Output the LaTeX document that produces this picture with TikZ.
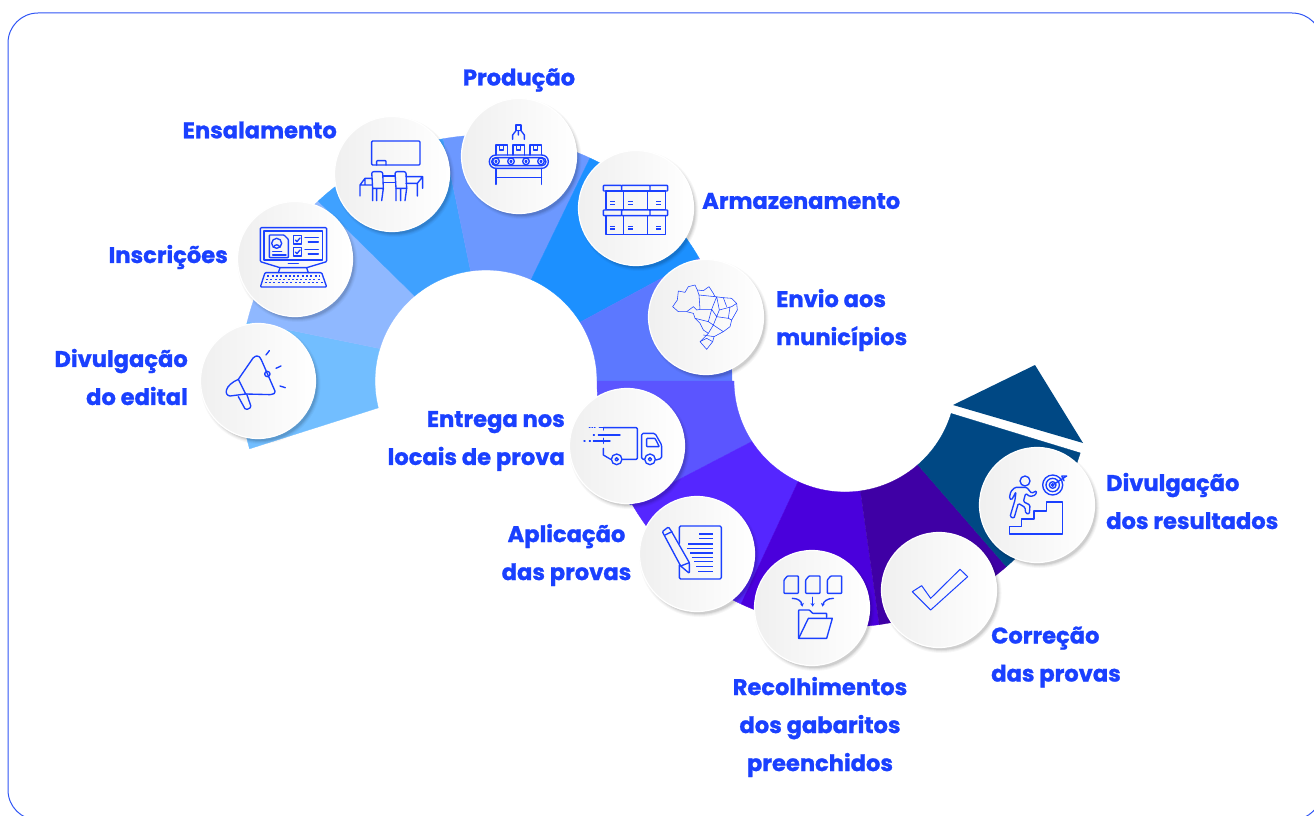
\documentclass[tikz,border=0pt]{standalone}
\usepackage{fontspec}
\setmainfont{Poppins}[BoldFeatures={FakeBold=1.1}]
\usetikzlibrary{calc,arrows.meta}
\definecolor{ink}{HTML}{1A40FF}
\definecolor{frame}{HTML}{2F55F5}
\definecolor{c1}{HTML}{72BEFF}
\definecolor{c2}{HTML}{8FB8FF}
\definecolor{c3}{HTML}{3FA1FF}
\definecolor{c4}{HTML}{6C98FF}
\definecolor{c5}{HTML}{1C90FF}
\definecolor{c6}{HTML}{5C78FF}
\definecolor{c7}{HTML}{5B55FF}
\definecolor{c8}{HTML}{5526FF}
\definecolor{c9}{HTML}{4A00DC}
\definecolor{c10}{HTML}{3F00A5}
\definecolor{c11}{HTML}{004884}
\tikzset{
  lab/.style={text=ink,font=\fontsize{22.6}{38}\selectfont\bfseries,inner sep=0pt},
  ico/.style={draw=ink,line width=1.35pt,line join=round,line cap=round},
  thinico/.style={draw=ink,line width=0.55pt,line join=round},
  disc/.style={circle,minimum size=115pt,inner sep=0pt,left color=black!6,right color=white,draw=white,line width=1.2pt},
  zoomed/.style={x=0.33333pt,y=-0.33333pt}
}
\newcommand{\seg}[8]{% cx cy a1in a2in a2out a1out rout colour
  \path[fill=#8,draw=#8,line width=0.3pt,shift={(#1,#2)}] (#3:111pt) arc[start angle=#3,end angle=#4,radius=111pt]
    -- (#5:#7pt) arc[start angle=#5,end angle=#6,radius=#7pt] -- cycle;}
\newcommand{\bub}[3]{% name x y
  \foreach \r/\o in {60/0.03,59/0.04,58/0.06,57/0.08}{\fill[black,opacity=\o] (#2+2.5,#3+3) circle[radius=\r pt];}
  \node[disc] (#1) at (#2,#3) {};}
\begin{document}
\begin{tikzpicture}[x=1pt,y=-1pt]
\useasboundingbox (0,0) rectangle (1314,816);
\draw[frame,line width=1pt,rounded corners=30pt] (8,13) rectangle (1322,820);
% ring, upper arc
\seg{486}{381}{194}{163}{166}{196}{246}{c1}
\seg{486}{381}{163}{130}{133}{166}{246}{c2}
\seg{486}{381}{130}{98}{100}{133}{246}{c3}
\seg{486}{381}{98}{66}{65}{100}{246}{c4}
\seg{486}{381}{66}{32}{30}{65}{246}{c5}
\seg{486}{381}{32}{0}{0}{30}{246}{c6}
% ring, lower arc
\seg{845}{381}{180}{213}{210}{180}{248}{c7}
\seg{845}{381}{213}{245}{245}{210}{246}{c8}
\seg{845}{381}{245}{278}{278}{245}{246}{c9}
\seg{845}{381}{278}{311}{311}{278}{246}{c10}
\seg{845}{381}{311}{343}{343}{311}{246}{c11}
% arrow head past the white gap
\fill[c11] (953,405) -- (1035,365) -- (1083,443) -- cycle;
% discs
\bub{d1}{258}{381}
\bub{d2}{295}{259}
\bub{d3}{392}{174}
\bub{d4}{519}{156}
\bub{d5}{636}{208}
\bub{d6}{706}{317}
\bub{d7}{627}{446}
\bub{d8}{697}{554}
\bub{d9}{812}{608}
\bub{d10}{939}{590}
\bub{d11}{1037}{505}
% labels
\node[lab,anchor=east,align=right] (t1) at (188,377) {Divulgação\\do edital};
\node[lab,anchor=east] (t2) at (228,257) {Inscrições};
\node[lab,anchor=east] (t3) at (337,130) {Ensalamento};
\node[lab] (t4) at (519,80) {Produção};
\node[lab,anchor=west] (t5) at (702,201) {Armazenamento};
\node[lab,anchor=west,align=left] (t6) at (776,320) {Envio aos\\municípios};
\node[lab,anchor=east,align=right] (t7) at (565,441) {Entrega nos\\locais de prova};
\node[lab,align=center] (t8) at (566.5,555) {Aplicação\\das provas};
\node[lab,align=center] (t9) at (820,727) {Recolhimentos\\dos gabaritos\\preenchidos};
\node[lab,anchor=west,align=left] (t10) at (991,657) {Correção\\das provas};
\node[lab,anchor=west,align=left] (t11) at (1106,501) {Divulgação\\dos resultados};
% icons traced in zoomed crops
\begin{scope}[shift={(180,90)},zoomed]
 % megaphone
 \draw[ico,rounded corners=1.5pt] (175,868) -- (222,800) -- (235,797) -- (242,805) -- (287,908) -- (275,914) -- (197,912);
 \draw[ico] (175,868) .. controls (135,885) and (130,915) .. (150,918) -- (197,912) -- (175,868);
 \draw[ico,rounded corners=1.5pt] (175,920) -- (197,960) -- (214,952) -- (200,912);
 \draw[ico] (262,852) circle[radius=8];
 \draw[ico] (258,795) -- (268,782) (288,835) -- (303,828) (300,888) -- (316,893);
 % computer
 \draw[ico,rounded corners=1pt] (241,413) -- (440,413) -- (440,515) -- (380,533) -- (300,533) -- (241,515) -- cycle;
 \draw[ico] (252,423) rectangle (428,510);
 \draw[ico,rounded corners=0.7pt] (268,435) -- (312,435) -- (325,448) -- (325,503) -- (268,503) -- cycle;
 \draw[ico] (290,460) circle[radius=15];
 \draw[ico] (280,472) .. controls (285,462) and (296,462) .. (300,472);
 \draw[ico] (278,485) -- (305,485) (278,495) -- (318,495);
 \draw[ico] (340,437) rectangle (365,462) (340,473) rectangle (365,498);
 \draw[ico] (346,450) -- (351,455) -- (360,444) (346,486) -- (351,491) -- (360,480);
 \draw[ico] (375,443) -- (415,443) (385,456) -- (415,456) (375,478) -- (415,478) (385,492) -- (415,492);
 \draw[ico] (325,521) -- (355,521);
 \draw[ico] (300,533) -- (295,548) (380,533) -- (385,548);
 \draw[ico,rounded corners=1pt] (255,548) -- (425,548) -- (440,591) -- (241,591) -- cycle;
 \draw[ico,dash pattern=on 2pt off 2.3pt,line cap=butt] (262,558) -- (420,558) (258,568) -- (424,568) (254,578) -- (428,578);
 % classroom
 \draw[ico,rounded corners=1pt] (575,153) rectangle (720,225);
 \draw[ico,rounded corners=0.7pt] (590,225) -- (590,212) -- (618,212) -- (618,225);
 \draw[ico,rounded corners=2pt] (578,295) -- (575,245) -- (608,245) -- (610,295);
 \draw[ico] (578,332) -- (578,295) -- (610,295) -- (605,332) (590,295) -- (590,332);
 \draw[ico,rounded corners=2pt] (648,295) -- (645,245) -- (678,245) -- (680,295);
 \draw[ico] (648,332) -- (648,295) -- (680,295) -- (675,332) (662,295) -- (662,332);
 \draw[ico] (610,258) -- (645,258) (610,278) -- (645,278);
 \draw[ico] (575,265) -- (555,265) -- (540,285) -- (540,318) (555,265) -- (555,285) -- (540,285) (555,285) -- (575,285);
 \draw[ico] (678,260) -- (728,260) -- (728,295) (678,280) -- (712,280) -- (712,318) (712,280) -- (728,260);
 % conveyor
 \draw[ico] (1008,122) rectangle (1023,105);
 \draw[ico] (998,148) -- (998,135) -- (1008,122) (1033,148) -- (1033,135) -- (1023,122) (1015,122) -- (1015,135);
 \draw[ico,rounded corners=6.5pt] (928,195) rectangle (1105,235);
 \draw[ico,rounded corners=3.9pt] (935,203) rectangle (1098,227);
 \foreach \cx in {948,993,1038,1083}{\draw[ico] (\cx,214) circle[radius=10]; \draw[ico] (\cx,214) circle[radius=3];}
 \foreach \bx in {948,999,1050}{\draw[ico] (\bx,195) -- (\bx,165) -- (\bx+34,165) -- (\bx+34,195);
   \draw[ico] (\bx+11,165) -- (\bx+11,180) -- (\bx+23,180) -- (\bx+23,165);}
 \draw[ico] (948,235) -- (948,283) (1084,235) -- (1084,283) (948,263) -- (1084,263);
\end{scope}
\begin{scope}[shift={(560,130)},zoomed]
 % boxes
 \foreach \yy in {166,240}{
  \draw[ico,rounded corners=0.7pt] (130,\yy) rectangle (185,\yy+17) (185,\yy) rectangle (270,\yy+17) (270,\yy) rectangle (323,\yy+17);
  \draw[ico] (138,\yy+17) rectangle (190,\yy+73) (190,\yy+17) rectangle (262,\yy+73) (262,\yy+17) rectangle (316,\yy+73);
  \foreach \lx in {150,205,288}{\draw[ico,line cap=butt] (\lx,\yy+49) -- (\lx+15,\yy+49) (\lx,\yy+57) -- (\lx+15,\yy+57);}
 }
 % map of Brazil
 \draw[thinico] (338,530) -- (352,510) -- (355,483) -- (375,487) -- (385,470) -- (405,465) -- (412,480) -- (430,482) -- (447,470) -- (460,490) -- (465,500) -- (490,503) -- (515,505) -- (530,520) -- (532,540) -- (515,570) -- (510,590) -- (490,605) -- (462,620) -- (458,635) -- (440,658) -- (420,635) -- (445,610) -- (430,600) -- (420,580) -- (405,565) -- (400,550) -- (380,545) -- (355,545) -- cycle;
 \draw[thinico] (380,545) -- (400,530) -- (410,540) -- (420,538) -- (455,538) -- (470,500)
   (420,538) -- (417,495) -- (412,480) (417,495) -- (465,500)
   (405,565) -- (445,575) -- (460,585) -- (445,610) (455,538) -- (445,575)
   (470,560) -- (505,565) -- (515,570) (470,560) -- (460,585) -- (490,605) (455,538) -- (470,560)
   (470,500) -- (478,540) -- (515,530) -- (530,520) (490,503) -- (500,530) (510,530) -- (505,565) (478,540) -- (470,560)
   (420,635) -- (440,625) -- (458,635) (430,615) -- (462,620);
\end{scope}
\begin{scope}[shift={(560,380)},zoomed]
 % truck
 \draw[ico] (130,205) -- (130,225) -- (152,238);
 \draw[ico,rounded corners=1pt] (130,143) -- (232,143) -- (232,238) -- (188,238);
 \draw[ico] (130,143) -- (130,150) (130,175) -- (130,190);
 \draw[ico] (170,238) circle[radius=16] (170,238) circle[radius=5];
 \draw[ico] (270,238) circle[radius=16] (270,238) circle[radius=5];
 \draw[ico,rounded corners=1.5pt] (252,238) -- (245,238) -- (245,160) -- (285,160) -- (305,195) -- (305,235) -- (288,240);
 \draw[ico,rounded corners=0.7pt] (260,175) -- (285,175) -- (298,200) -- (260,200) -- cycle;
 \draw[ico,dash pattern=on 0.6pt off 2pt] (88,143) -- (105,143);
 \draw[ico] (118,143) -- (130,143) (100,165) -- (103,165) (115,165) -- (180,165) (72,183) -- (75,183) (88,183) -- (91,183) (100,183) -- (150,183);
 % test sheet
 \draw[ico,rounded corners=1.3pt] (358,490) -- (358,438) -- (484,438) -- (484,597) -- (358,597) -- (358,555);
 \foreach \a/\b in {418/462,418/476,385/492,382/505,390/519,395/532,402/545,408/560,415/574}{\draw[ico,line cap=butt] (\a,\b) -- (458,\b);}
 \draw[ico,rounded corners=1pt] (307,455) -- (325,441) -- (332,450) -- (388,548) -- (388,580) -- (362,558) -- cycle;
 \draw[ico] (315,465) -- (336,455) (362,558) -- (388,548);
 % folder
 \foreach \dx in {0,65,130}{\draw[ico,rounded corners=0.7pt] (672+\dx,600) -- (682+\dx,588) -- (715+\dx,588) -- (715+\dx,640) -- (672+\dx,640) -- cycle;}
 \draw[ico,-{Stealth[length=3.5pt,width=4pt]}] (697,655) .. controls (715,655) and (725,665) .. (727,680);
 \draw[ico,-{Stealth[length=3.5pt,width=4pt]}] (758,652) -- (758,680);
 \draw[ico,-{Stealth[length=3.5pt,width=4pt]}] (820,655) .. controls (802,655) and (790,665) .. (787,680);
 \draw[ico,rounded corners=0.5pt] (716,775) -- (716,690) -- (748,690) -- (758,700) -- (800,700) -- (800,712);
 \draw[ico] (745,715) -- (817,715) -- (800,775) -- (716,775) -- cycle;
\end{scope}
\begin{scope}[shift={(860,350)},zoomed]
 % check mark
 \draw[thinico,line width=1pt] (157,725) -- (185,707) -- (212,745) -- (300,658) -- (323,680) -- (212,780) -- cycle;
 % stairs and target
 \draw[ico] (448,530) -- (485,530) -- (485,507) -- (522,507) -- (522,483) -- (560,483) -- (560,456) -- (608,456) -- (608,552) -- (448,552) -- cycle;
 \foreach \rr in {30,20,10,4}{\draw[ico] (578,405) circle[radius=\rr];}
 \draw[ico] (578,405) -- (620,378) (606,380) -- (612,392) (620,378) -- (605,378);
 \draw[ico] (495,393) circle[radius=15];
 \draw[ico,rounded corners=1.3pt] (465,412) -- (500,412) -- (515,430) -- (530,422) -- (527,435) -- (510,440) -- (497,430) -- (490,455) -- (510,465) -- (508,492) -- (497,490) -- (495,472) -- (475,460) -- (462,505) -- (450,500) -- (465,450) -- (468,425) -- (455,450) -- (448,445) -- (452,425) -- cycle;
\end{scope}
\end{tikzpicture}
\end{document}
